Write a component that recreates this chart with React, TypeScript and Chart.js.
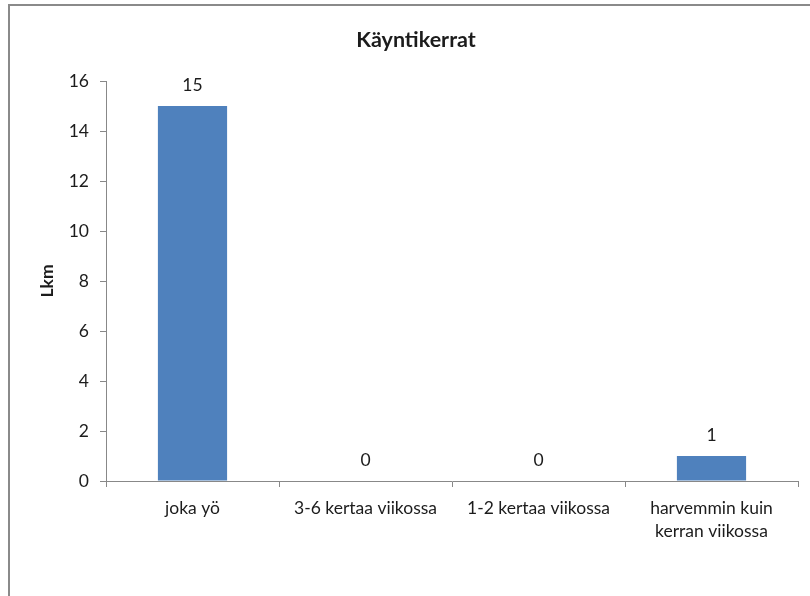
import React, { useEffect, useRef } from "react";
import { Chart, registerables } from "chart.js";

Chart.register(...registerables);

const categories: (string | string[])[] = [
  "joka yö",
  "3-6 kertaa viikossa",
  "1-2 kertaa viikossa",
  ["harvemmin kuin", "kerran viikossa"],
];
const counts = [15, 0, 0, 1];
const yTicks = [0, 2, 4, 6, 8, 10, 12, 14, 16];
const chartTitle = "Käyntikerrat";
const yAxisTitle = "Lkm";

const FONT = "Lato, 'Open Sans', sans-serif";
const TEXT = "#1c1c1c";
const AXIS = "#888888";
const BAR = "#4F81BD";
const SIZE = 17.5;

// Frame around the whole chart object and its title
const framePlugin = {
  id: "frame",
  beforeDraw(chart: Chart) {
    const ctx = chart.ctx;
    ctx.save();
    ctx.fillStyle = "#ffffff";
    ctx.fillRect(0, 0, chart.width, chart.height);
    ctx.strokeStyle = "#8a8a8a";
    ctx.lineWidth = 2;
    ctx.strokeRect(9, 5, chart.width + 20, chart.height + 20);
    ctx.fillStyle = TEXT;
    ctx.font = `bold 21.5px ${FONT}`;
    ctx.textAlign = "center";
    ctx.textBaseline = "middle";
    ctx.fillText(chartTitle, 416, 40);
    ctx.restore();
  },
};

// Value labels above each bar
const valueLabelPlugin = {
  id: "valueLabels",
  afterDatasetsDraw(chart: Chart) {
    const ctx = chart.ctx;
    const meta = chart.getDatasetMeta(0);
    ctx.save();
    ctx.fillStyle = TEXT;
    ctx.font = `${SIZE}px ${FONT}`;
    ctx.textAlign = "center";
    ctx.textBaseline = "middle";
    meta.data.forEach((el: any, i: number) => {
      ctx.fillText(String(counts[i]), el.x, el.y - 21);
    });
    ctx.restore();
  },
};

export default function App() {
  const ref = useRef<HTMLCanvasElement | null>(null);

  useEffect(() => {
    if (!ref.current) return;
    const chart = new Chart(ref.current, {
      type: "bar",
      data: {
        labels: categories,
        datasets: [
          {
            data: counts,
            backgroundColor: BAR,
            borderWidth: 0,
            categoryPercentage: 1,
            barPercentage: 0.4,
          },
        ],
      },
      options: {
        animation: false,
        responsive: false,
        devicePixelRatio: 1,
        layout: { padding: { top: 81, right: 12, left: 0, bottom: 0 } },
        plugins: {
          legend: { display: false },
          title: { display: false },
          tooltip: { enabled: false },
        },
        scales: {
          x: {
            offset: true,
            grid: {
              offset: true,
              drawOnChartArea: false,
              drawTicks: true,
              tickLength: 6,
              color: AXIS,
            },
            border: { color: AXIS, width: 1 },
            ticks: {
              color: TEXT,
              font: { family: FONT, size: SIZE, lineHeight: 1.3 },
              padding: 10,
              maxRotation: 0,
              minRotation: 0,
              autoSkip: false,
            },
            afterFit(scale: any) {
              scale.height = 115;
            },
          },
          y: {
            min: 0,
            max: 16,
            afterBuildTicks(scale: any) {
              scale.ticks = yTicks.map((v) => ({ value: v }));
            },
            grid: {
              drawOnChartArea: false,
              drawTicks: true,
              tickLength: 6,
              color: AXIS,
            },
            border: { color: AXIS, width: 1 },
            ticks: {
              color: TEXT,
              font: { family: FONT, size: SIZE },
              padding: 11,
            },
            title: {
              display: true,
              text: yAxisTitle,
              color: TEXT,
              font: { family: FONT, size: SIZE, weight: "bold" },
              padding: { top: 37, bottom: 0 },
            },
            afterFit(scale: any) {
              scale.width = 106;
            },
          },
        },
      },
      plugins: [framePlugin, valueLabelPlugin],
    });
    return () => chart.destroy();
  }, []);

  return (
    <div style={{ position: "fixed", left: 0, top: 0, width: 810, height: 596 }}>
      <canvas ref={ref} width={810} height={596} />
    </div>
  );
}
